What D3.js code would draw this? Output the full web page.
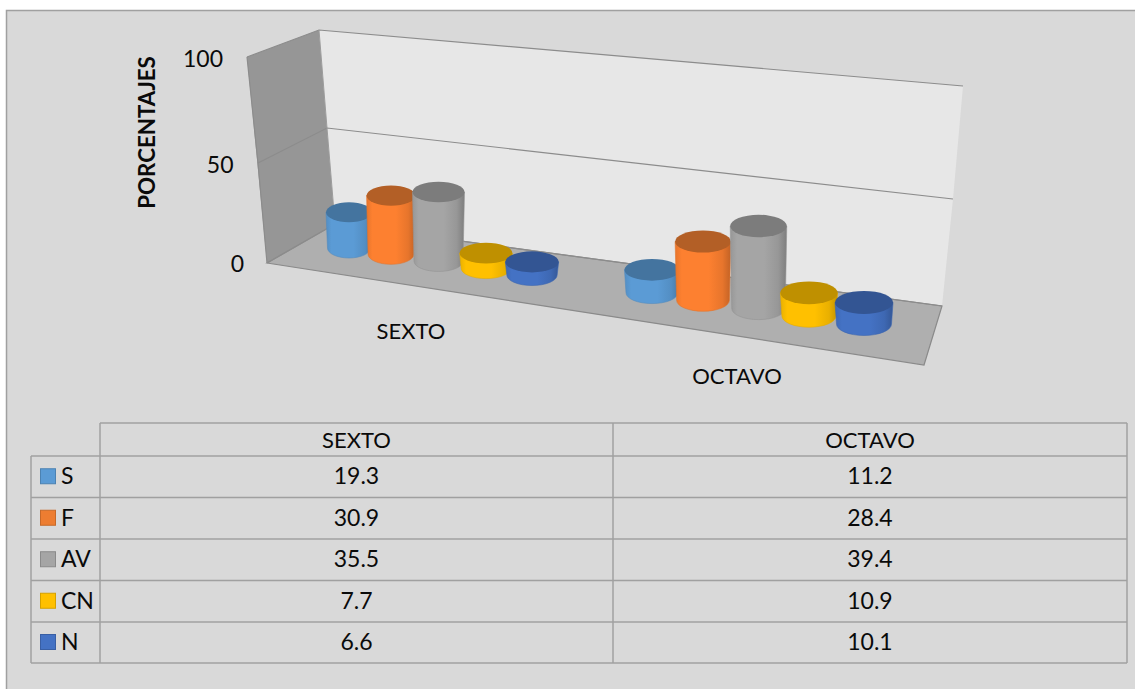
<!DOCTYPE html>
<html><head><meta charset="utf-8">
<script src="https://cdn.jsdelivr.net/npm/d3@7/dist/d3.min.js"></script>
<style>html,body{margin:0;padding:0;background:#fff}svg{display:block}text{font-family:Lato,"Open Sans",sans-serif;fill:#0a0a0a}</style>
</head><body><div id="c"></div>
<script>
const categories = ["SEXTO","OCTAVO"];
const seriesNames = ["S","F","AV","CN","N"];
const valuesS = [19.3,11.2];
const valuesF = [30.9,28.4];
const valuesAV = [35.5,39.4];
const valuesCN = [7.7,10.9];
const valuesN = [6.6,10.1];
const valueTicks = [0,50,100];
const sideColors = ["#5b9bd5","#fd8030","#a5a5a5","#ffc000","#4472c4"];
const topColors = ["#44749f","#b35f26","#7c7c7c","#bf9000","#335593"];
const swatchColors = ["#5b9bd5","#ed7d31","#a5a5a5","#ffc000","#4472c4"];
const allValues = [valuesS,valuesF,valuesAV,valuesCN,valuesN];

const W=1135,H=689;
const svg=d3.select("#c").append("svg").attr("width",W).attr("height",H);
svg.append("rect").attr("x",6.5).attr("y",10.5).attr("width",W).attr("height",H).attr("fill","#d9d9d9").attr("stroke","#a0a0a0").attr("stroke-width",1.5);

// wall edges as value scales (perspective makes them piecewise)
const dom=[0,50,100];
const wallFrontX=d3.scaleLinear(dom,[267,258,247]), wallFrontY=d3.scaleLinear(dom,[263,163,57]);
const wallBackLX=d3.scaleLinear(dom,[335,327,319]), wallBackLY=d3.scaleLinear(dom,[224,128,30]);
const wallBackRX=d3.scaleLinear(dom,[942,953,963]), wallBackRY=d3.scaleLinear(dom,[306,199,86]);
const poly=d3.line();
const frontRight=[924,365];
svg.append("path").attr("d",poly([[wallFrontX(0),wallFrontY(0)],[wallFrontX(100),wallFrontY(100)],[wallBackLX(100),wallBackLY(100)],[wallBackLX(0),wallBackLY(0)]])+"Z").attr("fill","#969696");
svg.append("path").attr("d",poly([[wallBackLX(0),wallBackLY(0)],[wallBackLX(50),wallBackLY(50)],[wallBackLX(100),wallBackLY(100)],[wallBackRX(100),wallBackRY(100)],[wallBackRX(50),wallBackRY(50)],[wallBackRX(0),wallBackRY(0)]])+"Z").attr("fill","#e7e7e7");
svg.append("path").attr("d",poly([[wallFrontX(0),wallFrontY(0)],[wallBackLX(0),wallBackLY(0)],[wallBackRX(0),wallBackRY(0)],frontRight])+"Z").attr("fill","#afafaf").attr("stroke","#8a8a8a").attr("stroke-width",1.2);
valueTicks.forEach(t=>{
  svg.append("path").attr("fill","none").attr("stroke","#8c8c8c").attr("stroke-width",1.2)
    .attr("d",poly([[wallFrontX(t),wallFrontY(t)],[wallBackLX(t),wallBackLY(t)],[wallBackRX(t),wallBackRY(t)]]));
});
svg.append("path").attr("fill","none").attr("stroke","#8c8c8c").attr("stroke-width",1.2)
  .attr("d",poly(dom.map(t=>[wallFrontX(t),wallFrontY(t)])));
svg.append("path").attr("fill","none").attr("stroke","#9c9c9c").attr("stroke-width",1)
  .attr("d",poly(dom.map(t=>[wallBackLX(t),wallBackLY(t)])));

// axis labels
const tickY=d3.scaleLinear(dom,[264,164.5,59]);
const tickX=d3.scaleLinear([0,100],[244,223]);
svg.selectAll(".tick").data(valueTicks).join("text").attr("class","tick")
  .attr("x",d=>tickX(d)).attr("y",d=>tickY(d)+8).attr("text-anchor","end").attr("font-size",23).text(d=>d);
svg.append("text").attr("transform","translate(155,132.5) rotate(-90)").attr("text-anchor","middle")
  .attr("font-weight",700).attr("font-size",22.3).text("PORCENTAJES");
svg.append("text").attr("x",411).attr("y",339).attr("text-anchor","middle").attr("font-size",22).text(categories[0]);
svg.append("text").attr("x",737).attr("y",384).attr("text-anchor","middle").attr("font-size",22).text(categories[1]);

// cylinders: slot along the floor -> pixel position with perspective
const slotX=d3.scaleLinear([0,1,2,3,4,6.4,7.4,8.4,9.4,10.4],[349,391,438.5,486,532,652,703,758.5,809,864]);
const baseY=d3.scaleLinear([349,864],[248,324]);
const unitH=d3.scaleLinear([349,438,864],[1.85,1.95,2.14]);
const rxS=d3.scaleLinear([349,438,864],[23,26,29]);
const ryS=d3.scaleLinear([349,864],[10,11.5]);
const defs=svg.append("defs");
sideColors.forEach((c,i)=>{
  const g=defs.append("linearGradient").attr("id","g"+i);
  const dark=d3.color(c).darker(.75), mid=d3.color(c).darker(.25);
  [[0,mid],[.12,c],[.6,c],[.85,mid],[1,dark]].forEach(([o,k])=>g.append("stop").attr("offset",o).attr("stop-color",k));
});
categories.forEach((cat,ci)=>{
  seriesNames.forEach((s,si)=>{
    const slot=ci===0?si:si+6.4;
    const cx=slotX(slot), by=baseY(cx), h=allValues[si][ci]*unitH(cx), rx=rxS(cx), ry=ryS(cx), ty=by-h;
    svg.append("path").attr("fill",`url(#g${si})`).attr("stroke",d3.color(sideColors[si]).darker(.3)).attr("stroke-width",.6)
      .attr("d",`M${cx-rx},${ty}L${cx-rx+1.5},${by}A${rx-1.5},${ry} 0 0 0 ${cx+rx-1.5},${by}L${cx+rx},${ty}Z`);
    svg.append("ellipse").attr("cx",cx).attr("cy",ty).attr("rx",rx).attr("ry",ry).attr("fill",topColors[si]);
  });
});

// data table
const rowLines=[423,456,497.5,539,580.5,622,663];
const tx0=31,tx1=100,tx2=613,tx3=1127;
const gridC="#a0a0a0";
const seg=(x1,y1,x2,y2)=>svg.append("line").attr("x1",x1).attr("y1",y1).attr("x2",x2).attr("y2",y2).attr("stroke",gridC).attr("stroke-width",1.5);
rowLines.forEach((y,i)=>seg(i===0?tx1:tx0,y,tx3,y));
seg(tx0,rowLines[1],tx0,rowLines[6]);[tx1,tx2,tx3].forEach(x=>seg(x,rowLines[0],x,rowLines[6]));
const colC=[(tx1+tx2)/2,(tx2+tx3)/2];
categories.forEach((c,i)=>svg.append("text").attr("x",colC[i]).attr("y",448).attr("text-anchor","middle").attr("font-size",22).text(c));
seriesNames.forEach((s,si)=>{
  const yc=(rowLines[si+1]+rowLines[si+2])/2-.5;
  svg.append("rect").attr("x",40.5).attr("y",yc-7.5).attr("width",15).attr("height",15).attr("fill",swatchColors[si]).attr("stroke",d3.color(swatchColors[si]).darker(.5)).attr("stroke-width",1);
  svg.append("text").attr("x",61).attr("y",yc+8).attr("font-size",23).text(s);
  categories.forEach((c,ci)=>svg.append("text").attr("x",colC[ci]).attr("y",yc+8).attr("text-anchor","middle").attr("font-size",23).text(allValues[si][ci]));
});
</script></body></html>
